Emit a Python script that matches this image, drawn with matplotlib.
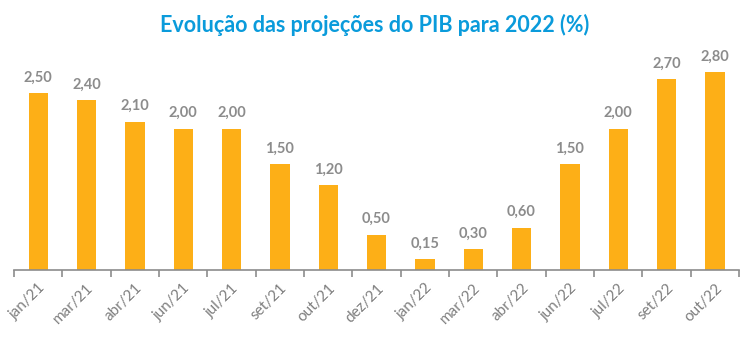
import numpy as np
import matplotlib
matplotlib.use("Agg")
import matplotlib.pyplot as plt

periodos = ["jan/21", "mar/21", "abr/21", "jun/21", "jul/21", "set/21", "out/21",
            "dez/21", "jan/22", "mar/22", "abr/22", "jun/22", "jul/22", "set/22", "out/22"]
projecao = [2.50, 2.40, 2.10, 2.00, 2.00, 1.50, 1.20, 0.50, 0.15, 0.30, 0.60,
            1.50, 2.00, 2.70, 2.80]

plt.rcParams['font.family'] = ['Lato', 'DejaVu Sans']

fig = plt.figure(figsize=(7.5, 3.55), dpi=100)
ax = fig.add_axes([14 / 750, 85 / 355, 725 / 750, 212 / 355])

x = np.arange(len(periodos))
ax.bar(x, projecao, width=0.4, color="#FDAF17")

for xi, v in zip(x, projecao):
    ax.text(xi, v + 0.12, f"{v:.2f}".replace(".", ","), ha="center", va="bottom",
            fontsize=10.5, fontweight="bold", color="#8C8C8C")

ax.set_xlim(-0.5, len(periodos) - 0.5)
ax.set_ylim(0, 3.0)
ax.set_yticks([])
for s in ["top", "right", "left"]:
    ax.spines[s].set_visible(False)
ax.spines["bottom"].set_color("#8C8C8C")
ax.spines["bottom"].set_linewidth(1.2)

ax.set_xticks(x)
ax.set_xticklabels(periodos, rotation=45, ha="right", rotation_mode="anchor",
                   fontsize=11, color="#7F7F7F")
ax.tick_params(axis="x", length=0, pad=8)
ax.set_xticks(np.arange(-0.5, len(periodos)), minor=True)
ax.tick_params(axis="x", which="minor", length=5, color="#8C8C8C", width=1.2)

fig.text(0.5, 1 - 25 / 355, "Evolução das projeções do PIB para 2022 (%)",
         ha="center", va="center", fontsize=15.5, fontweight="bold", color="#0A9BDB")

fig.savefig("out.png", dpi=100)
